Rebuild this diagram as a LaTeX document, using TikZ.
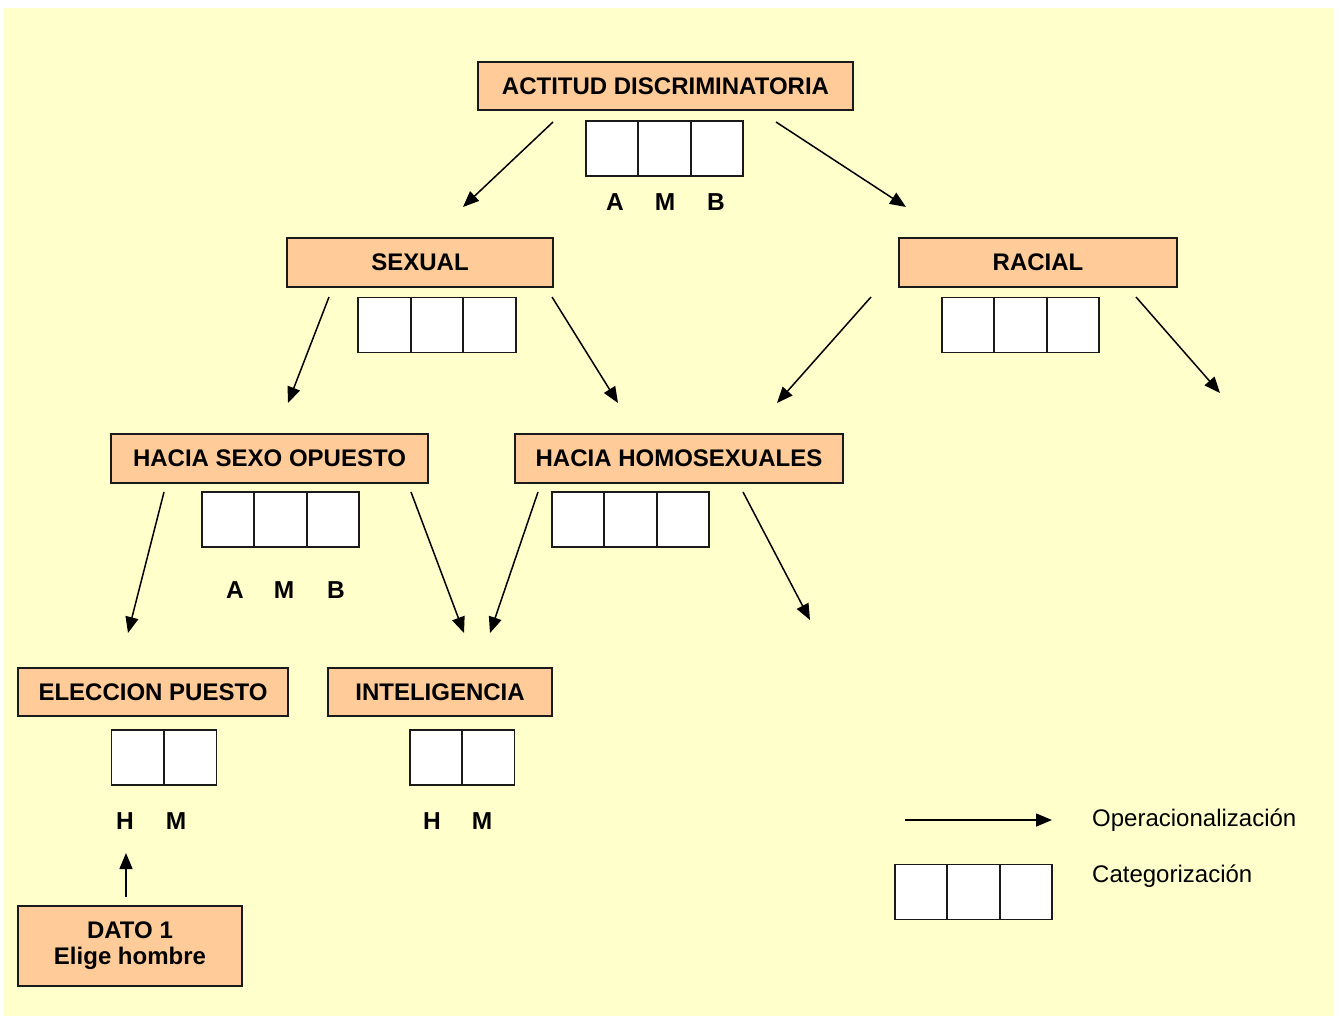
\documentclass[tikz,border=0pt]{standalone}
\usepackage{fontspec}
\setmainfont{Liberation Sans}
\usetikzlibrary{arrows.meta}
\definecolor{bgyellow}{HTML}{FFFFCC}
\definecolor{peach}{HTML}{FFCC99}
\definecolor{edge}{HTML}{1A1A1A}
\begin{document}
\begin{tikzpicture}[x=1pt,y=-1pt,
  box/.style={draw=edge,line width=1.6pt,fill=peach,inner sep=0pt,minimum height=48.5pt,
    font=\fontsize{24}{27}\selectfont\bfseries,align=center},
  cell/.style={draw=edge,line width=1.6pt,fill=white,inner sep=0pt,minimum width=52.3pt,minimum height=55pt},
  lbl/.style={inner sep=0pt,font=\fontsize{24.5}{27}\selectfont\bfseries},
  leg/.style={inner sep=0pt,anchor=west,font=\fontsize{24}{27}\selectfont},
  arr/.style={line width=1.5pt,-{Triangle[length=16pt,width=13pt]}}]
\useasboundingbox (0,0) rectangle (1340,1016);
\fill[bgyellow] (4,8) rectangle (1334,1016);

% main boxes
\node[box,minimum width=375pt] (act) at (665.5,86) {ACTITUD DISCRIMINATORIA};
\node[box,minimum width=266pt] (sex) at (420,262.5) {SEXUAL};
\node[box,minimum width=278pt] (rac) at (1038,262.5) {RACIAL};
\node[box,minimum width=317pt] (hso) at (269.5,458.5) {HACIA SEXO OPUESTO};
\node[box,minimum width=328pt] (hh) at (679,458.5) {HACIA HOMOSEXUALES};
\node[box,minimum width=270pt] (ele) at (153,692) {ELECCION PUESTO};
\node[box,minimum width=224pt] (int) at (440,692) {INTELIGENCIA};
\node[box,minimum width=224pt,minimum height=80pt,font=\fontsize{24}{26}\selectfont\bfseries] (dato) at (130,946) {DATO 1\\Elige hombre};

% category cells
\node[cell] (c1a) at (612,148.5) {};
\node[cell] (c1b) at (664.5,148.5) {};
\node[cell] (c1c) at (717,148.5) {};
\node[cell] (c2a) at (384.3,325) {};
\node[cell] (c2b) at (437,325) {};
\node[cell] (c2c) at (489.7,325) {};
\node[cell] (c3a) at (968,325) {};
\node[cell] (c3b) at (1020.5,325) {};
\node[cell] (c3c) at (1073,325) {};
\node[cell] (c4a) at (228,519.5) {};
\node[cell] (c4b) at (280.5,519.5) {};
\node[cell] (c4c) at (333,519.5) {};
\node[cell] (c5a) at (578,519.5) {};
\node[cell] (c5b) at (630.5,519.5) {};
\node[cell] (c5c) at (683,519.5) {};
\node[cell] (c6a) at (137.5,757.5) {};
\node[cell] (c6b) at (190.5,757.5) {};
\node[cell] (c7a) at (436,757.5) {};
\node[cell] (c7b) at (488.5,757.5) {};
\node[cell] (lga) at (921,892) {};
\node[cell] (lgb) at (973.5,892) {};
\node[cell] (lgc) at (1026,892) {};

% labels
\node[lbl] (la1) at (615,202) {A};
\node[lbl] (lm1) at (665,202) {M};
\node[lbl] (lb1) at (716,202) {B};
\node[lbl] (la2) at (235,590) {A};
\node[lbl] (lm2) at (284,590) {M};
\node[lbl] (lb2) at (336,590) {B};
\node[lbl] (lh1) at (125,821) {H};
\node[lbl] (lw1) at (176,821) {M};
\node[lbl] (lh2) at (432,821) {H};
\node[lbl] (lw2) at (482,821) {M};

% arrow end points
\coordinate (p1) at (553,122);  \coordinate (q1) at (463,207);
\coordinate (p2) at (776,122);  \coordinate (q2) at (906,207);
\coordinate (p3) at (329,297);  \coordinate (q3) at (288,403);
\coordinate (p4) at (552,297);  \coordinate (q4) at (618,403);
\coordinate (p5) at (871,297);  \coordinate (q5) at (777,403);
\coordinate (p6) at (1136,297); \coordinate (q6) at (1220,393);
\coordinate (p7) at (164,492);  \coordinate (q7) at (128,633);
\coordinate (p8) at (411,492);  \coordinate (q8) at (464,633);
\coordinate (p9) at (538,492);  \coordinate (q9) at (490,633);
\coordinate (p10) at (743,492); \coordinate (q10) at (810,620);
\coordinate (p11) at (126,897); \coordinate (q11) at (126,853);
\coordinate (p12) at (905,820); \coordinate (q12) at (1052,820);

\foreach \i in {1,...,12} {\draw[arr] (p\i) -- (q\i);}

% legend
\node[leg] (lop) at (1092,820) {Operacionalización};
\node[leg] (lcat) at (1092,876) {Categorización};
\end{tikzpicture}
\end{document}
